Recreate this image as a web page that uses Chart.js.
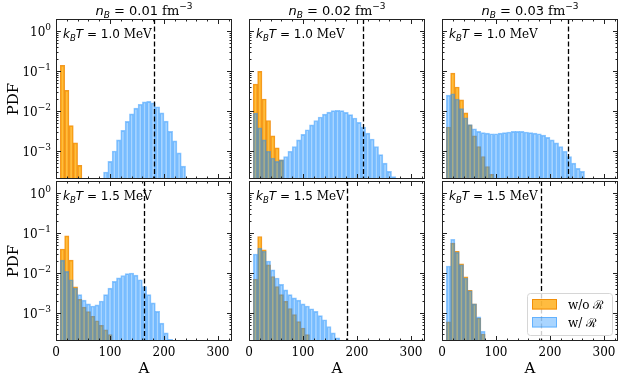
<!DOCTYPE html>
<html>
<head>
<meta charset="utf-8">
<script src="https://cdn.jsdelivr.net/npm/chart.js@4.4.0/dist/chart.umd.min.js"></script>
<style>
  html, body { margin: 0; padding: 0; background: #fff; }
  #wrap { position: relative; width: 624px; height: 384px; overflow: hidden; }
  #wrap canvas { position: absolute; left: 0; top: 0; }
</style>
</head>
<body>
<div id="wrap"></div>
<script>
// bin centres shared by every histogram (A)
const binCenters = [4, 12, 20, 28, 36, 44, 52, 60, 68, 76, 84, 92, 100, 108, 116, 124, 132, 140, 148, 156,
  164, 172, 180, 188, 196, 204, 212, 220, 228, 236, 244, 252, 260, 268, 276, 284, 292, 300, 308, 316, 324];

const nbValues = ['0.01', '0.02', '0.03'];
const tempValues = ['1.0', '1.5'];
const seriesNames = ['w/o \u211B', 'w/ \u211B'];

// PDF per bin, aligned with binCenters (missing tail = empty bin)
// kT = 1.0 MeV
const woR_n01_T10 = [null, 0.138, 0.033, 0.0043, 0.0016, 0.00044];
const wR_n01_T10 = [null, null, null, null, null, null, null, null, null, null, null,
  3.0e-4, 5.5e-4, 1.0e-3, 1.9e-3, 3.3e-3, 5.5e-3, 8.5e-3, 0.0118, 0.0148, 0.0170,
  0.0175, 0.0160, 0.0128, 0.0090, 0.0056, 0.0031, 0.0018, 9.0e-4, 4.2e-4];
const woR_n02_T10 = [null, 0.047, 0.098, 0.020, 0.0058, 0.0024, 0.0012, 6.0e-4];
const wR_n02_T10 = [null,
  0.0089, 0.0038, 0.0019, 0.00099, 6.7e-4, 5.5e-4, 6.0e-4, 7.3e-4, 9.9e-4, 1.3e-3,
  1.9e-3, 2.6e-3, 3.4e-3, 4.5e-3, 5.8e-3, 7.1e-3, 8.4e-3, 9.4e-3, 0.0102, 0.0104,
  0.0102, 9.3e-3, 8.1e-3, 6.7e-3, 5.2e-3, 4.0e-3, 2.8e-3, 2.0e-3, 1.3e-3, 8.1e-4,
  5.0e-4, 3.1e-4, 2.3e-4];
const woR_n03_T10 = [null, 0.004, 0.089, 0.04, 0.019, 0.009, 0.0045, 0.0024, 0.0013, 7.3e-4, 4.1e-4, 2.6e-4];
const wR_n03_T10 = [null,
  0.025, 0.027, 0.020, 0.0115, 0.0068, 0.0046, 0.0036, 0.0031, 0.0029, 0.0028,
  0.0027, 0.0027, 0.0028, 0.0029, 0.0030, 0.0031, 0.0031, 0.0031, 0.0030, 0.0029,
  0.0028, 0.0027, 0.0025, 0.0022, 0.0019, 0.0016, 0.0013, 9.9e-4, 7.3e-4, 5.0e-4,
  3.7e-4, 3.1e-4];
// kT = 1.5 MeV
const woR_n01_T15 = [null, 0.040, 0.085, 0.021, 0.0045, 0.0022, 0.0014, 0.00108, 8.3e-4, 6.4e-4, 4.9e-4, 3.8e-4, 2.9e-4];
const wR_n01_T15 = [null,
  0.021, 0.011, 0.0068, 0.0042, 0.0029, 0.0021, 0.0017, 0.0015, 0.0016, 0.0020,
  0.0029, 0.0042, 0.0062, 0.0076, 0.0087, 0.0097, 0.0100, 0.0089, 0.0068, 0.0046,
  0.0029, 0.0018, 0.0011, 5.6e-4, 3.2e-4, 2.2e-4];
const woR_n02_T15 = [null, 0.007, 0.082, 0.038, 0.016, 0.0082, 0.0046, 0.0029, 0.00195, 0.0013, 9.1e-4, 6.1e-4, 4.2e-4, 2.9e-4];
const wR_n02_T15 = [null,
  0.030, 0.042, 0.035, 0.020, 0.012, 0.0075, 0.0052, 0.0038, 0.0029, 0.0024,
  0.0021, 0.0017, 0.0015, 0.00128, 0.0011, 8.6e-4, 6.8e-4, 4.6e-4, 3.2e-4, 2.4e-4];
const woR_n03_T15 = [null, 6.0e-4, 0.056, 0.035, 0.017, 0.008, 0.0037, 0.0017, 7.5e-4, 3.0e-4];
const wR_n03_T15 = [null, 0.015, 0.070, 0.033, 0.016, 0.0075, 0.0036, 0.0017, 8.0e-4, 3.5e-4];

// dashed reference lines (A)
const dashT10 = [182, 212, 234];
const dashT15 = [163, 181, 183];

// axis ticks
const xTicks = [0, 100, 200, 300];
const yMajorTicks = [1e-3, 1e-2, 1e-1, 1];
const yTickExps = ['\u22123', '\u22122', '\u22121', '0'];

const woR = [[woR_n01_T10, woR_n02_T10, woR_n03_T10], [woR_n01_T15, woR_n02_T15, woR_n03_T15]];
const wR = [[wR_n01_T10, wR_n02_T10, wR_n03_T10], [wR_n01_T15, wR_n02_T15, wR_n03_T15]];
const dashes = [dashT10, dashT15];

//------------------------------------------
const W = 624, H = 384;
const colX = [56, 249, 442], rowY = [19, 181], panelW = 176, panelH = 160;
const serif = 'DejaVu Serif', sans = 'DejaVu Sans';
const orangeFill = 'rgba(255,165,0,0.75)', orangeEdge = 'rgba(240,135,0,0.85)';
const blueFill = 'rgba(30,144,255,0.38)', blueEdge = 'rgba(30,144,255,0.5)';

function points(vals) {
  return vals.map((v, i) => ({x: binCenters[i], y: v})).filter(p => p.y != null);
}

function drawRuns(ctx, runs, x, y, align) {
  let w = 0;
  runs.forEach(r => { ctx.font = r.f; r.w = ctx.measureText(r.t).width; w += r.w; });
  let cx = align === 'center' ? x - w / 2 : align === 'right' ? x - w : x;
  runs.forEach(r => { ctx.font = r.f; ctx.fillText(r.t, cx, y + (r.dy || 0)); cx += r.w; });
}

// inward ticks on all four sides + frame + dashed line
const frameTicks = {
  id: 'frameTicks',
  afterDatasetsDraw(chart, args, opts) {
    const {ctx, chartArea: {left, right, top, bottom}, scales: {x, y}} = chart;
    ctx.save();
    // dashed line
    const dx = Math.round(x.getPixelForValue(opts.dash)) + 0.5;
    ctx.strokeStyle = '#000';
    ctx.lineWidth = 1.3;
    ctx.setLineDash([5, 2.5]);
    ctx.beginPath(); ctx.moveTo(dx, top); ctx.lineTo(dx, bottom); ctx.stroke();
    ctx.setLineDash([]);

    ctx.strokeStyle = '#222';
    ctx.lineWidth = 1;
    const hTick = (v, len) => {
      const px = Math.round(x.getPixelForValue(v)) + 0.5;
      ctx.moveTo(px, bottom); ctx.lineTo(px, bottom - len);
      ctx.moveTo(px, top); ctx.lineTo(px, top + len);
    };
    const vTick = (v, len) => {
      const py = Math.round(y.getPixelForValue(v)) + 0.5;
      ctx.moveTo(left, py); ctx.lineTo(left + len, py);
      ctx.moveTo(right, py); ctx.lineTo(right - len, py);
    };
    ctx.beginPath();
    xTicks.forEach(v => hTick(v, 5));
    for (let v = 20; v < x.max; v += 20) if (v % 100) hTick(v, 2.5);
    yMajorTicks.forEach(v => vTick(v, 5));
    for (let e = -4; e <= 0; e++) {
      for (let m = 2; m <= 9; m++) {
        const v = m * Math.pow(10, e);
        if (v > y.min && v < y.max) vTick(v, 2.5);
      }
    }
    ctx.stroke();
    ctx.strokeRect(left + 0.5, top + 0.5, right - left - 1, bottom - top - 1);
    ctx.restore();
  }
};

// column titles, temperature labels, y tick labels, legend
const panelText = {
  id: 'panelText',
  afterDraw(chart, args, opts) {
    const {ctx, chartArea: {left, right, top, bottom}, scales: {y}} = chart;
    ctx.save();
    ctx.fillStyle = '#000';
    ctx.textBaseline = 'alphabetic';
    if (opts.title) {
      drawRuns(ctx, [
        {t: 'n', f: 'italic 13px ' + sans},
        {t: 'B', f: 'italic 9px ' + sans, dy: 3},
        {t: ' = ' + opts.title + ' ', f: '13px ' + sans},
        {t: 'fm', f: '13px ' + serif},
        {t: '\u22123', f: '9px ' + sans, dy: -6}
      ], (left + right) / 2, 15, 'center');
    }
    drawRuns(ctx, [
      {t: 'k', f: 'italic 12px ' + sans},
      {t: 'B', f: 'italic 8.5px ' + sans, dy: 3},
      {t: 'T', f: 'italic 12px ' + sans},
      {t: ' = ' + opts.temp + ' ', f: '12px ' + sans},
      {t: 'MeV', f: '12px ' + serif}
    ], left + 7, top + 19, 'left');

    if (opts.yLabels) {
      yMajorTicks.forEach((v, i) => {
        const py = y.getPixelForValue(v);
        drawRuns(ctx, [
          {t: '10', f: '12px ' + serif},
          {t: yTickExps[i], f: '9px ' + serif, dy: -6}
        ], left - 5, py + 4.5, 'right');
      });
    }

    if (opts.legend) {
      const bw = 85, bh = 42;
      const bx = right - 6 - bw, by = bottom - 6 - bh;
      ctx.beginPath();
      ctx.roundRect(bx + 0.5, by + 0.5, bw, bh, 3);
      ctx.fillStyle = 'rgba(255,255,255,0.8)';
      ctx.fill();
      ctx.strokeStyle = '#d6d6d6';
      ctx.lineWidth = 1;
      ctx.stroke();
      chart.data.datasets.forEach((ds, i) => {
        const py = by + 6 + i * 18;
        ctx.fillStyle = ds.backgroundColor;
        ctx.fillRect(bx + 5, py, 25, 10.5);
        ctx.strokeStyle = ds.borderColor;
        ctx.strokeRect(bx + 5.5, py + 0.5, 24, 9.5);
        ctx.fillStyle = '#000';
        ctx.font = '12px ' + serif;
        ctx.fillText(ds.label, bx + 41, py + 9.5);
      });
    }
    ctx.restore();
  }
};

//------------------------------------------
const wrap = document.getElementById('wrap');
for (let r = 0; r < 2; r++) {
  for (let c = 0; c < 3; c++) {
    const cv = document.createElement('canvas');
    cv.width = W; cv.height = H;
    wrap.appendChild(cv);
    new Chart(cv, {
      type: 'bar',
      data: {
        datasets: [
          {label: seriesNames[0], data: points(woR[r][c]), backgroundColor: orangeFill, borderColor: orangeEdge,
           borderWidth: 1, order: 1, grouped: false, barPercentage: 1, categoryPercentage: 1},
          {label: seriesNames[1], data: points(wR[r][c]), backgroundColor: blueFill, borderColor: blueEdge,
           borderWidth: 1, order: 0, grouped: false, barPercentage: 1, categoryPercentage: 1}
        ]
      },
      options: {
        responsive: false,
        animation: false,
        devicePixelRatio: 1,
        layout: {padding: {
          left: c === 0 ? 0 : colX[c],
          right: W - colX[c] - panelW,
          top: rowY[r],
          bottom: r === 1 ? 0 : H - rowY[r] - panelH
        }},
        plugins: {
          legend: {display: false},
          tooltip: {enabled: false},
          frameTicks: {dash: dashes[r][c]},
          panelText: {title: r === 0 ? nbValues[c] : null, temp: tempValues[r], legend: r === 1 && c === 2, yLabels: c === 0}
        },
        scales: {
          x: {
            type: 'linear', min: 0, max: 326, offset: false, display: r === 1,
            grid: {display: false, drawTicks: false}, border: {display: false},
            afterBuildTicks: s => { s.ticks = xTicks.map(v => ({value: v})); },
            afterFit: s => { if (r === 1) s.height = H - rowY[1] - panelH; },
            ticks: {font: {family: serif, size: 12}, color: '#000', padding: 5, maxRotation: 0, autoSkip: false},
            title: {display: true, text: 'A', font: {family: serif, size: 15}, color: '#000', padding: {top: 0, bottom: 6}}
          },
          y: {
            type: 'logarithmic', min: 2e-4, max: 2, display: c === 0,
            grid: {display: false, drawTicks: false}, border: {display: false},
            afterBuildTicks: s => { s.ticks = yMajorTicks.map(v => ({value: v})); },
            afterFit: s => { if (c === 0) s.width = colX[0]; },
            ticks: {display: false},
            title: {display: true, text: 'PDF', font: {family: serif, size: 15}, color: '#000', padding: {top: 5, bottom: 0}}
          }
        }
      },
      plugins: [frameTicks, panelText]
    });
  }
}
</script>
</body>
</html>
